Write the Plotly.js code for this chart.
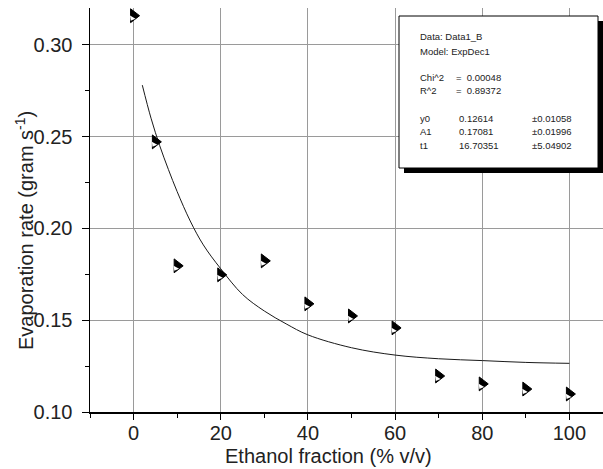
<!DOCTYPE html>
<html><head><meta charset="utf-8">
<script src="https://cdn.plot.ly/plotly-3.0.1.min.js"></script>
<style>html,body{margin:0;padding:0;overflow:hidden;background:#fff}</style>
</head><body><div id="chart" style="width:615px;height:469px"></div>
<script>
const ethanolFraction = [0, 5, 10, 20, 30, 40, 50, 60, 70, 80, 90, 100];
const evaporationRate = [0.3158, 0.2471, 0.1796, 0.1747, 0.1823, 0.1589, 0.1523, 0.1458, 0.1196, 0.1153, 0.1125, 0.1098];
// fitted ExpDec1 curve
const fitX = [2, 4, 6, 8, 10, 13, 16, 20, 25, 30, 35, 40, 50, 60, 70, 80, 90, 100];
const fitY = [0.278, 0.260, 0.245, 0.232, 0.220, 0.204, 0.191, 0.178, 0.164, 0.155, 0.148, 0.142, 0.135, 0.131, 0.129, 0.128, 0.127, 0.1265];
// fit report text
const reportHeader = ['Data: Data1_B', 'Model: ExpDec1'];
const statNames = ['Chi^2', 'R^2'];
const statValues = ['=  0.00048', '=  0.89372'];
const paramNames = ['y0', 'A1', 't1'];
const paramValues = ['0.12614', '0.17081', '16.70351'];
const paramErrors = ['\u00b10.01058', '\u00b10.01996', '\u00b15.04902'];
const xTickVals = [0, 20, 40, 60, 80, 100];
const yTickVals = [0.10, 0.15, 0.20, 0.25, 0.30];

const W = 615, H = 469, ML = 90, MR = 2, MT = 8, MB = 57;
const PW = W - ML - MR, PH = H - MT - MB;
const px = x => (x - ML) / PW;
const py = y => 1 - (y - MT) / PH;

const FONT = 'Liberation Sans, Arial, sans-serif';
const traces = [
  {x: fitX, y: fitY, mode: 'lines', line: {color: '#1a1a1a', width: 1, shape: 'spline'}, hoverinfo: 'skip'},
  {x: ethanolFraction, y: evaporationRate, mode: 'markers',
   marker: {symbol: 'triangle-right', size: 12, color: '#000', line: {color: '#000', width: 1}}},
  {x: ethanolFraction, y: evaporationRate, mode: 'markers',
   marker: {symbol: 'triangle-down', size: 5.5, color: '#fff', angle: 30, standoff: 3, line: {width: 0}}}
];

const ann = [];
const txt = (x, y, t) => ann.push({xref: 'paper', yref: 'paper', x: px(x), y: py(y), xanchor: 'left', yanchor: 'middle',
  text: t, showarrow: false, font: {family: FONT, size: 9.5, color: '#222'}});
reportHeader.forEach((t, i) => txt(418, 37 + i * 15, t));
statNames.forEach((t, i) => { txt(418, 78 + i * 13, t); txt(454, 78 + i * 13, statValues[i]); });
paramNames.forEach((t, i) => { txt(418, 118 + i * 13.5, t); txt(457, 118 + i * 13.5, paramValues[i]); txt(530, 118 + i * 13.5, paramErrors[i]); });
ann.push({xref: 'paper', yref: 'paper', x: px(328), y: py(456), xanchor: 'center', yanchor: 'middle', showarrow: false,
  text: 'Ethanol fraction (% v/v)', font: {family: FONT, size: 20, color: '#222'}});
ann.push({xref: 'paper', yref: 'paper', x: px(24), y: py(231), xanchor: 'center', yanchor: 'middle', showarrow: false, textangle: -90,
  text: 'Evaporation rate (gram s<sup>-1</sup>)', font: {family: FONT, size: 20, color: '#222'}});

const layout = {
  width: W, height: H, margin: {l: ML, r: MR, t: MT, b: MB},
  paper_bgcolor: '#fff', plot_bgcolor: '#fff', showlegend: false,
  font: {family: FONT, size: 20, color: '#222'},
  xaxis: {range: [-10, 110], tickvals: xTickVals, ticks: 'outside', ticklen: 6, tickwidth: 1, tickcolor: '#000',
    showline: true, linecolor: '#000', linewidth: 1.5, showgrid: true, gridcolor: '#9a9a9a', gridwidth: 1, zeroline: false,
    minor: {ticks: 'outside', ticklen: 4, dtick: 10, tick0: 0, tickcolor: '#000', showgrid: false},
    tickfont: {family: FONT, size: 20, color: '#222'}, ticklabelstandoff: -4},
  xaxis2: {overlaying: 'x', anchor: 'y', side: 'top', range: [-10, 110], tickvals: xTickVals, ticks: 'inside', ticklen: 6,
    tickcolor: '#000', showticklabels: false, showgrid: false, showline: true, linecolor: '#000', linewidth: 1.5, zeroline: false,
    minor: {ticks: 'inside', ticklen: 3, dtick: 10, tick0: 0, tickcolor: '#000', showgrid: false}},
  yaxis: {range: [0.10, 0.32], tickvals: yTickVals, tickformat: '.2f', ticks: 'outside', ticklen: 7, tickcolor: '#000',
    showline: true, linecolor: '#000', linewidth: 1.5, showgrid: true, gridcolor: '#9a9a9a', gridwidth: 1, zeroline: false,
    minor: {ticks: 'outside', ticklen: 4, dtick: 0.025, tick0: 0.1, tickcolor: '#000', showgrid: false},
    tickfont: {family: FONT, size: 20, color: '#222'}, ticklabelstandoff: 5},
  shapes: [
    {type: 'rect', xref: 'paper', yref: 'paper', x0: px(404), x1: px(603), y0: py(21), y1: py(173), fillcolor: '#000', line: {width: 0}},
    {type: 'rect', xref: 'paper', yref: 'paper', x0: px(399), x1: px(598), y0: py(16), y1: py(168), fillcolor: '#fff', line: {color: '#000', width: 1}}
  ],
  annotations: ann
};
Plotly.newPlot('chart', traces, layout, {displayModeBar: false, staticPlot: true});
</script></body></html>
